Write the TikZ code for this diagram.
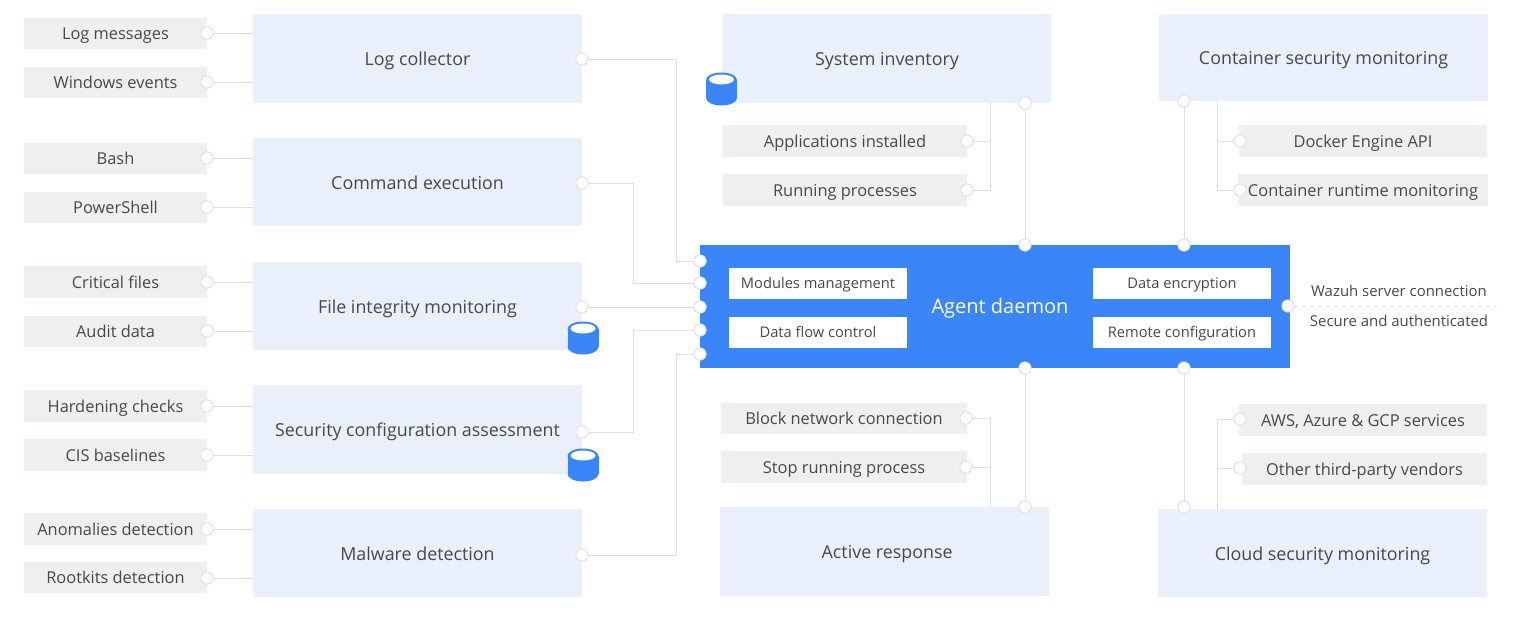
\documentclass[tikz,border=0pt]{standalone}
\usepackage{fontspec}
\setmainfont{Open Sans}
\usetikzlibrary{calc}
\definecolor{mainblue}{HTML}{3A86F8}
\definecolor{biglight}{HTML}{E9F0FB}
\definecolor{smallgrey}{HTML}{F0EEF1}
\definecolor{linegrey}{HTML}{DEDEDE}
\definecolor{inktext}{HTML}{484848}
\tikzset{
  x=0.75pt,y=-0.75pt,
  base/.style={rectangle,inner sep=0pt,outer sep=0pt,text=inktext,align=center},
  bigbox/.style={base,fill=biglight,font=\fontsize{13.4}{15}\selectfont,text height=11pt,text depth=0.5pt},
  smallbox/.style={base,fill=smallgrey,font=\fontsize{12.3}{14}\selectfont,text height=9.5pt,text depth=0.5pt},
  smallup/.style={base,fill=smallgrey,font=\fontsize{12.3}{14}\selectfont,text height=10.5pt,text depth=0.5pt},
  innerbox/.style={base,fill=white,font=\fontsize{11}{13}\selectfont,text height=8pt,text depth=0.5pt},
  mainbox/.style={base,fill=mainblue},
  mainlabel/.style={inner sep=0pt,text=white,font=\fontsize{15}{18}\selectfont},
  dot/.style={circle,fill=white,draw=linegrey,line width=0.7pt,minimum size=9.2pt,inner sep=0pt,outer sep=0pt},
  conn/.style={draw=linegrey,line width=0.75pt},
  plainlabel/.style={inner sep=0pt,text=inktext,font=\fontsize{11.2}{13}\selectfont},
}
\newcommand{\bx}[7]{\node[#6,minimum width={(#4-#2)*0.75pt},minimum height={(#5-#3)*0.75pt}] (#1) at ({(#2+#4)/2},{(#3+#5)/2}) {#7};}
\newcommand{\dt}[3]{\node[dot] (#1) at (#2,#3) {};}
\newcommand{\dbcyl}[2]{%
  \fill[mainblue] (#1-15.5,#2-9) rectangle (#1+15.5,#2+9);
  \fill[mainblue] (#1,#2-9) ellipse[x radius=15.5,y radius=7.5];
  \fill[mainblue] (#1,#2+9) ellipse[x radius=15.5,y radius=7.5];
  \fill[white] (#1,#2-9.5) ellipse[x radius=12.5,y radius=5];
}
\begin{document}
\begin{tikzpicture}
\useasboundingbox (0,0) rectangle (1520,619);
% left small
\bx{a1}{24}{18}{207}{49}{smallbox}{Log messages}
\bx{a2}{24}{67}{207}{98}{smallbox}{Windows events}
\bx{a3}{24}{143}{207}{174}{smallbox}{Bash}
\bx{a4}{24}{192}{207}{223}{smallbox}{PowerShell}
\bx{a5}{24}{266}{207}{298}{smallbox}{Critical files}
\bx{a6}{24}{316}{207}{347}{smallbox}{Audit data}
\bx{a7}{24}{390}{207}{422}{smallbox}{Hardening checks}
\bx{a8}{24}{439}{207}{471}{smallbox}{CIS baselines}
\bx{a9}{24}{513}{207}{545}{smallbox}{Anomalies detection}
\bx{a10}{24}{562}{207}{593}{smallbox}{Rootkits detection}
% left big
\bx{l1}{253}{14}{582}{103}{bigbox}{Log collector}
\bx{l2}{253}{138}{582}{226}{bigbox}{Command execution}
\bx{l3}{253}{262}{582}{350}{bigbox}{File integrity monitoring}
\bx{l4}{253}{385}{582}{474}{bigbox}{Security configuration assessment}
\bx{l5}{253}{509}{582}{597}{bigbox}{Malware detection}
% top and bottom centre
\bx{si}{723}{14}{1051}{103}{bigbox}{System inventory}
\bx{s1}{723}{125}{967}{157}{smallbox}{Applications installed}
\bx{s2}{723}{174}{967}{206}{smallbox}{Running processes}
\bx{ar}{720}{507}{1049}{596}{bigbox}{\hspace*{4pt}Active response}
\bx{r1}{721}{403}{967}{434}{smallbox}{Block network connection}
\bx{r2}{721}{451}{967}{483}{smallbox}{Stop running process}
% right
\bx{cs}{1159}{14}{1488}{101}{bigbox}{Container security monitoring}
\bx{c1}{1239}{125}{1487}{157}{smallbox}{Docker Engine API}
\bx{c2}{1238}{174}{1488}{206}{smallbox}{Container runtime monitoring}
\bx{cl}{1158}{509}{1487}{597}{bigbox}{Cloud security monitoring}
\bx{v1}{1239}{404}{1487}{436}{smallbox}{AWS, Azure \& GCP services}
\bx{v2}{1242}{453}{1487}{485}{smallbox}{Other third-party vendors}
% main
\bx{main}{700}{245}{1290}{368}{mainbox}{}
\node[mainlabel] (agent) at (1000,308.5) {Agent daemon};
\bx{i1}{729}{268}{907}{299}{innerbox}{Modules management}
\bx{i2}{729}{317}{907}{348}{innerbox}{Data flow control}
\bx{i3}{1093}{268}{1271}{299}{innerbox}{Data encryption}
\bx{i4}{1093}{317}{1271}{348}{innerbox}{Remote configuration}
\dbcyl{721.5}{89}
\dbcyl{583}{338}
\dbcyl{583}{465}
% dots
\dt{da1}{207}{33}\dt{da2}{207}{82}\dt{da3}{207}{158}\dt{da4}{207}{207}\dt{da5}{207}{282}
\dt{da6}{207}{331}\dt{da7}{207}{406}\dt{da8}{207}{455}\dt{da9}{207}{529}\dt{da10}{207}{578}
\dt{dl1}{582}{59}\dt{dl2}{582}{183}\dt{dl3}{582}{307}\dt{dl4}{582}{432}\dt{dl5}{582}{555}
\dt{dm1}{700}{261}\dt{dm2}{700}{283}\dt{dm3}{700}{307}\dt{dm4}{700}{330}\dt{dm5}{700}{354}
\dt{dmt1}{1025}{245}\dt{dmt2}{1184}{245}\dt{dmb1}{1025}{368}\dt{dmb2}{1184}{368}\dt{dmr}{1288}{306}
\dt{dsi}{1025}{103}\dt{ds1}{967}{141}\dt{ds2}{967}{190}
\dt{dcs}{1184}{101}\dt{dc1}{1240}{141}\dt{dc2}{1240}{190}
\dt{dar}{1025}{507}\dt{dr1}{966}{418}\dt{dr2}{966}{467}
\dt{dcl}{1184}{507}\dt{dv1}{1240}{419}\dt{dv2}{1240}{468}
% bus positions
\coordinate (busa) at (676,0);
\coordinate (busb) at (633,0);
\coordinate (busc) at (990,0);
\coordinate (busd) at (1217,0);
\coordinate (serverend) at (1500,306);
% connectors
\foreach \i in {1,...,10}{
  \pgfmathtruncatemacro{\k}{int((\i+1)/2)}
  \draw[conn] (da\i) -- (l\k.west |- da\i);
}
\draw[conn] (dl1) -| (busa |- dm1) -- (dm1);
\draw[conn] (dl2) -| (busb |- dm2) -- (dm2);
\draw[conn] (dl3) -- (dm3);
\draw[conn] (dl4) -| (busb |- dm4) -- (dm4);
\draw[conn] (dl5) -| (busa |- dm5) -- (dm5);
\draw[conn] (dsi) -- (dmt1);
\draw[conn] (dcs) -- (dmt2);
\draw[conn] (dar) -- (dmb1);
\draw[conn] (dcl) -- (dmb2);
\draw[conn] (si.south -| busc) -- (busc |- ds2) -- (ds2);
\draw[conn] (busc |- ds1) -- (ds1);
\draw[conn] (cs.south -| busd) -- (busd |- dc2) -- (dc2);
\draw[conn] (busd |- dc1) -- (dc1);
\draw[conn] (ar.north -| busc) -- (busc |- dr1) -- (dr1);
\draw[conn] (busc |- dr2) -- (dr2);
\draw[conn] (cl.north -| busd) -- (busd |- dv1) -- (dv1);
\draw[conn] (busd |- dv2) -- (dv2);
\draw[conn,dash pattern=on 2pt off 4pt] (dmr) -- (serverend);
\node[plainlabel] (t1) at (1399,291) {Wazuh server connection};
\node[plainlabel] (t2) at (1399,321) {Secure and authenticated};
\end{tikzpicture}
\end{document}
